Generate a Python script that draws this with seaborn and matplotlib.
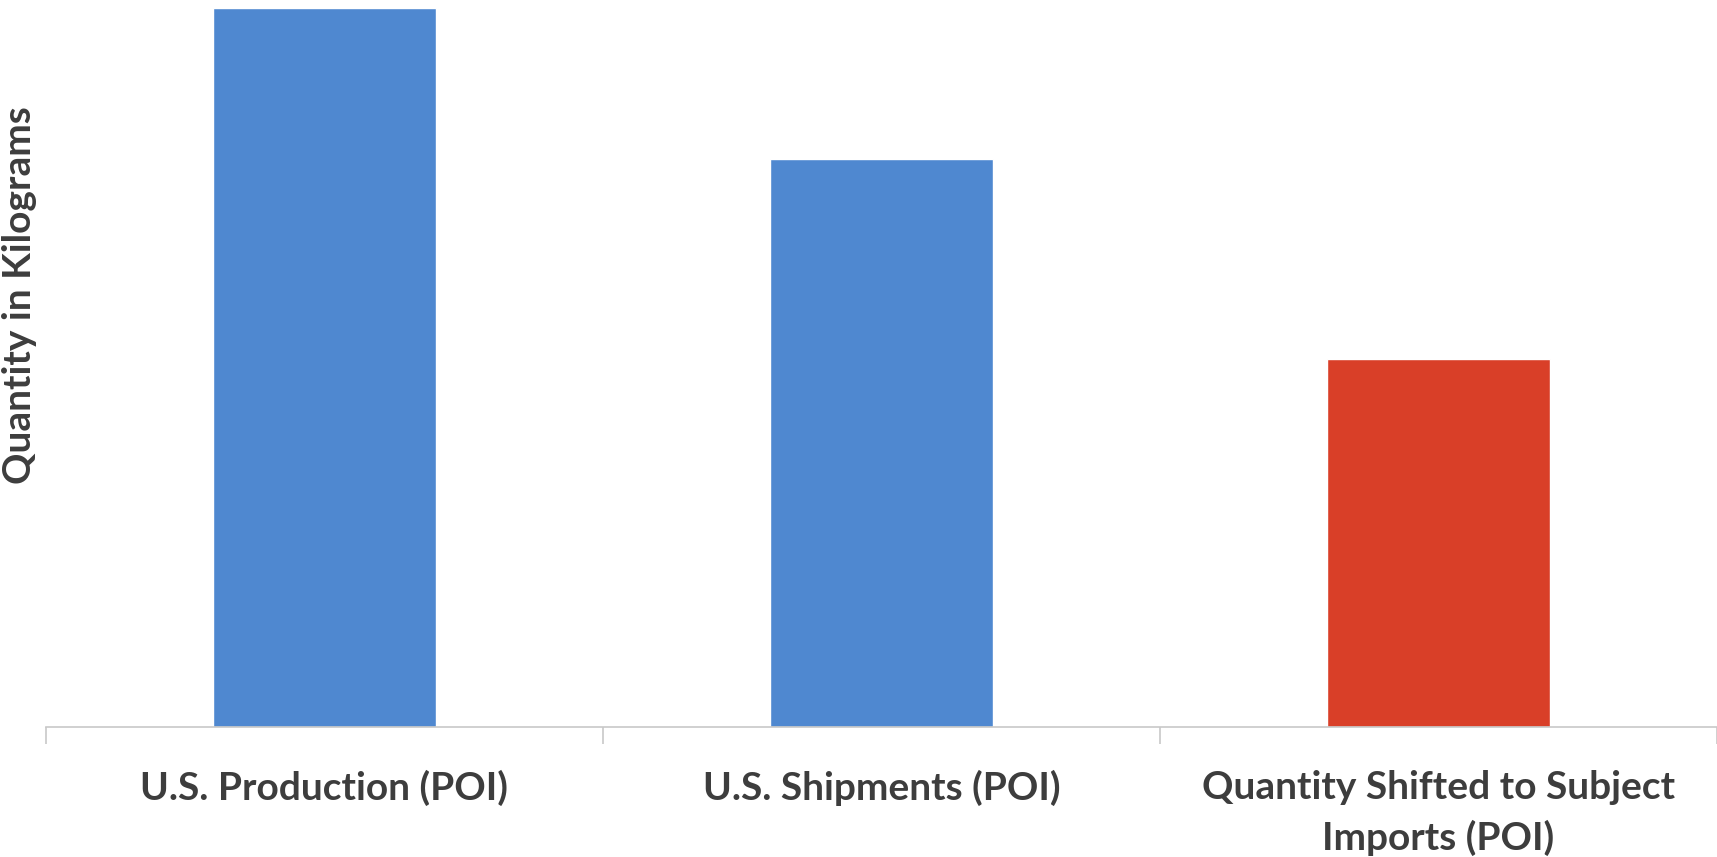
import numpy as np
import pandas as pd
import seaborn as sns
import matplotlib.pyplot as plt

# values (relative bar heights, no y scale shown)
categories = ['U.S. Production (POI)', 'U.S. Shipments (POI)',
              'Quantity Shifted to Subject\nImports (POI)']
quantity = [100, 79, 51.2]
bar_colors = ['#4f88d0', '#4f88d0', '#d93f28']

df = pd.DataFrame({'category': categories, 'quantity': quantity})

sns.set_style('white')
plt.rcParams['font.family'] = ['Lato', 'DejaVu Sans']

fig = plt.figure(figsize=(17.17, 8.57), dpi=100)
ax = fig.add_axes([46 / 1717, 130 / 857, 1 - 46 / 1717, 727 / 857])

sns.barplot(data=df, x='category', y='quantity', hue='category',
            palette=bar_colors, width=0.4, legend=False, ax=ax,
            saturation=1)

ax.set_xlim(-0.5, 2.5)
ax.set_ylim(0, 101.1)

# axis styling
for s in ['top', 'right', 'left']:
    ax.spines[s].set_visible(False)
ax.spines['bottom'].set_color('#c8c8c8')
ax.spines['bottom'].set_linewidth(1.2)
ax.set_yticks([])

ax.set_xticks([-0.5, 0.5, 1.5, 2.5], minor=True)
ax.tick_params(axis='x', which='minor', bottom=True, length=12,
               color='#c8c8c8', width=1.2)
ax.tick_params(axis='x', which='major', length=0, pad=31)
for lab in ax.get_xticklabels():
    lab.set_fontsize(28)
    lab.set_fontweight('bold')
    lab.set_color('#3d3d3d')
    lab.set_linespacing(1.5)

ax.set_xlabel('')
ax.set_ylabel('')
fig.text(20 / 1717, 1 - 295 / 857, 'Quantity in Kilograms', rotation=90,
         ha='center', va='center', fontsize=28, fontweight='bold',
         color='#3d3d3d')

fig.savefig('out.png', dpi=100, facecolor='white')
